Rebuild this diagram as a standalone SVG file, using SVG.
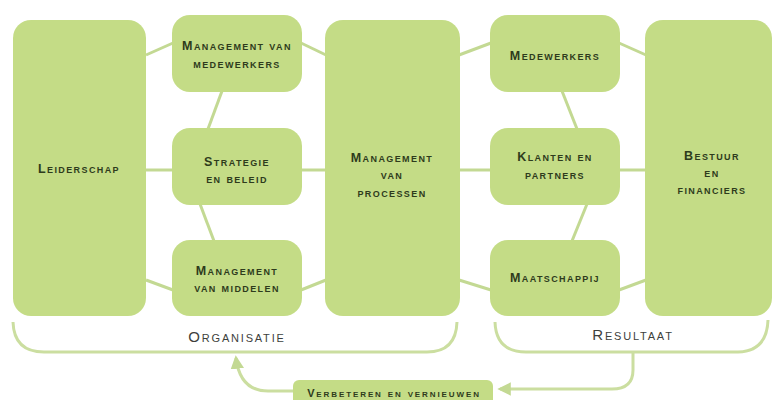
<svg xmlns="http://www.w3.org/2000/svg" width="776" height="400" viewBox="0 0 776 400">
<defs>
<style>
.box{fill:#c4dc86;}
.ln{stroke:#c3d993;stroke-width:3;fill:none;}
.br{stroke:#cbdea0;stroke-width:3;fill:none;}
.t{font-family:"Liberation Sans",Arial,sans-serif;font-weight:bold;font-variant:small-caps;font-size:12.5px;letter-spacing:1.4px;fill:#2e3b1c;text-anchor:middle;}
.lab{font-family:"Liberation Sans",Arial,sans-serif;font-variant:small-caps;font-size:15px;letter-spacing:1.8px;fill:#3d3f3c;text-anchor:middle;}
</style>
<marker id="ah" viewBox="0 0 10 10" refX="8" refY="5" markerWidth="4.5" markerHeight="4.5" orient="auto">
<path d="M0,0 L10,5 L0,10 z" fill="#c3d993"/>
</marker>
</defs>
<rect width="776" height="400" fill="#ffffff"/>
<g id="connectors">
<line class="ln" x1="146" y1="55" x2="173" y2="43"/>
<line class="ln" x1="146" y1="170" x2="173" y2="170"/>
<line class="ln" x1="146" y1="280" x2="173" y2="290"/>
<line class="ln" x1="222" y1="91" x2="208" y2="129"/>
<line class="ln" x1="200" y1="204" x2="214" y2="241"/>
<line class="ln" x1="301" y1="43" x2="326" y2="55"/>
<line class="ln" x1="301" y1="170" x2="326" y2="170"/>
<line class="ln" x1="301" y1="290" x2="326" y2="280"/>
<line class="ln" x1="459" y1="55" x2="491" y2="43"/>
<line class="ln" x1="459" y1="170" x2="491" y2="170"/>
<line class="ln" x1="459" y1="280" x2="491" y2="290"/>
<line class="ln" x1="562" y1="91" x2="577" y2="129"/>
<line class="ln" x1="587" y1="204" x2="572" y2="241"/>
<line class="ln" x1="619" y1="43" x2="646" y2="55"/>
<line class="ln" x1="619" y1="170" x2="646" y2="170"/>
<line class="ln" x1="619" y1="290" x2="646" y2="280"/>
<path class="br" d="M13,322 Q14,352 44,352 L427,352 Q456,352 457,322"/>
<path class="br" d="M495,322 Q496,352 526,352 L738,352 Q767,351 768,320"/>
<path class="br" d="M633,352 L633,370 Q633,389 612,389 L500,389" marker-end="url(#ah)"/>
<path class="br" d="M293,391 L268,391 Q240,391 236,358" marker-end="url(#ah)"/>
</g>
<g id="leiderschap">
<rect class="box" x="13" y="20" width="133" height="296" rx="18"/>
<text class="t" x="79" y="173">Leiderschap</text>
</g>
<g id="mgmt-medewerkers">
<rect class="box" x="172" y="15" width="130" height="77" rx="18"/>
<text class="t" x="237" y="50">Management van</text>
<text class="t" x="237" y="68">medewerkers</text>
</g>
<g id="strategie">
<rect class="box" x="172" y="128" width="130" height="77" rx="18"/>
<text class="t" x="237" y="166">Strategie</text>
<text class="t" x="237" y="183">en beleid</text>
</g>
<g id="mgmt-middelen">
<rect class="box" x="172" y="240" width="130" height="76" rx="18"/>
<text class="t" x="237" y="275">Management</text>
<text class="t" x="237" y="292">van middelen</text>
</g>
<g id="processen">
<rect class="box" x="325" y="20" width="135" height="296" rx="18"/>
<text class="t" x="392" y="162">Management</text>
<text class="t" x="392" y="179">van</text>
<text class="t" x="392" y="197">processen</text>
</g>
<g id="medewerkers">
<rect class="box" x="490" y="15" width="130" height="77" rx="18"/>
<text class="t" x="555" y="60">Medewerkers</text>
</g>
<g id="klanten">
<rect class="box" x="490" y="128" width="130" height="77" rx="18"/>
<text class="t" x="555" y="161">Klanten en</text>
<text class="t" x="555" y="179">partners</text>
</g>
<g id="maatschappij">
<rect class="box" x="490" y="240" width="130" height="76" rx="18"/>
<text class="t" x="555" y="282">Maatschappij</text>
</g>
<g id="bestuur">
<rect class="box" x="645" y="20" width="127" height="296" rx="18"/>
<text class="t" x="712" y="160">Bestuur</text>
<text class="t" x="712" y="177">en</text>
<text class="t" x="712" y="194">financiers</text>
</g>
<g id="organisatie">
<text class="lab" x="237" y="342">Organisatie</text>
</g>
<g id="resultaat">
<text class="lab" x="633" y="340">Resultaat</text>
</g>
<g id="verbeteren">
<rect class="box" x="293" y="380" width="200" height="30" rx="6"/>
<text class="t" x="394" y="397" style="font-size:11px;letter-spacing:1.9px">Verbeteren en vernieuwen</text>
</g>
</svg>
